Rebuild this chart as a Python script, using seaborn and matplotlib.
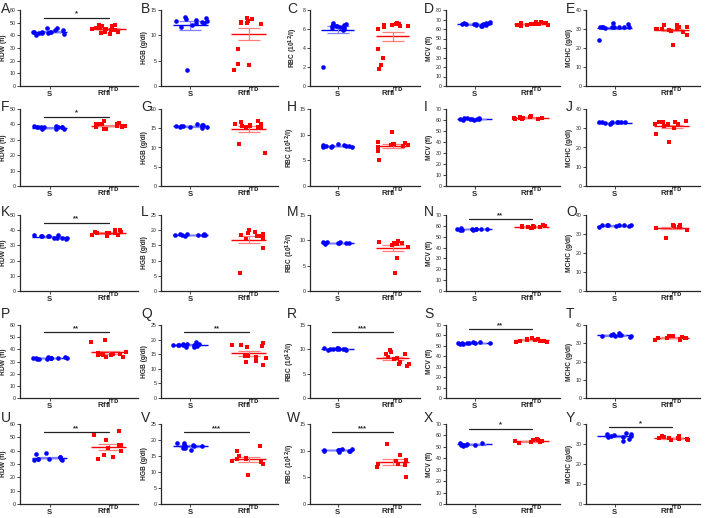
import numpy as np
import pandas as pd
import seaborn as sns
import matplotlib.pyplot as plt

sns.set_style("ticks")
plt.rcParams['font.family'] = ['Liberation Sans', 'DejaVu Sans']

groups = ['S', r'Rffl$^{\mathbf{TD}}$']
letters = list('ABCDEFGHIJKLMNOPQRSTUVWXY')
ylabels = ['RDW (fl)', 'HGB (g/dl)', r'RBC (10$^{\mathbf{12}}$/l)', 'MCV (fl)', 'MCHC (g/dl)']

# y axis max per panel
ymax = [60, 15, 8, 80, 40,
        50, 20, 15, 70, 40,
        50, 25, 15, 70, 40,
        60, 25, 15, 70, 40,
        60, 25, 15, 70, 40]
ystep = [10, 5, 2, 10, 10,
         10, 5, 5, 10, 10,
         10, 5, 5, 10, 10,
         10, 5, 5, 10, 10,
         10, 5, 5, 10, 10]
stars = ['*', '', '', '', '',
         '*', '', '', '', '',
         '**', '', '', '**', '',
         '**', '**', '***', '**', '',
         '**', '***', '***', '*', '*']
star_y = [54, 0, 0, 0, 0,
          45, 0, 0, 0, 0,
          45, 0, 0, 66, 0,
          54, 22.5, 13.5, 66, 0,
          54, 22.5, 13.5, 66, 38.5]

# values (S = wild type, R = Rffl TD)
A_S = [43, 46, 42, 43, 44, 41, 40, 42, 43, 46, 43, 42, 44, 43]
A_R = [48, 47, 45, 44, 46, 43, 42, 44, 45, 46, 41, 43, 47, 48, 45]
B_S = [13.5, 12.8, 13, 12.5, 12.7, 13.3, 12.9, 12.4, 12, 13.7, 11.7, 3.1]
B_R = [12.9, 12.5, 12.5, 13.4, 12.3, 13.2, 12.5, 12.7, 12.4, 7.4, 4.3, 4.1, 3.2]
C_S = [6.3, 6.4, 6.2, 6.5, 6.0, 6.4, 6.6, 5.9, 6.3, 6.2, 6.1, 6.3, 2.0]
C_R = [6.4, 6.3, 6.2, 6.5, 6.6, 6.3, 6.4, 6.5, 6.0, 3.9, 2.9, 2.2, 1.8]
D_S = [65, 64, 66, 67, 63, 65, 64, 65, 66, 64, 63, 65, 66, 65]
D_R = [65, 66, 67, 64, 65, 66, 63, 65, 67, 64, 66, 65, 64, 65]
E_S = [31, 31, 31, 33, 30.5, 31, 31, 32.5, 31, 31, 31, 24]
E_R = [30, 31, 32, 29, 32, 30, 31, 29.5, 30, 30, 30, 27, 21.5, 28.5]
F_S = [38, 38, 39, 37, 38, 39, 38, 37, 38, 38, 37, 38]
F_R = [40, 42, 39, 38, 40, 37, 39, 40, 38, 41, 39, 37, 40]
G_S = [15.5, 15.8, 15.2, 16, 15.4, 15.6, 15, 15.8, 15.5, 15.3, 15.7]
G_R = [16, 15.5, 16.5, 15.2, 15.8, 16.2, 15, 15.7, 16.8, 11, 8.5, 15.4]
H_S = [7.8, 7.6, 8, 7.7, 7.5, 7.9, 7.8, 7.6, 8.1, 7.7]
H_R = [8.0, 8.2, 7.8, 8.5, 10.5, 7.6, 8.3, 7.9, 6.8, 5.0, 8.1]
I_S = [61, 62, 61, 60, 61, 62, 61, 61, 60, 62]
I_R = [62, 63, 61, 62, 64, 62, 61, 63, 62, 61, 62]
J_S = [33, 33, 32.5, 33.5, 33, 32, 33, 33, 32.5, 33]
J_R = [33, 32, 34, 31, 33, 32, 30, 33, 27, 23, 32]
K_S = [36, 35, 37, 36, 35, 34, 36, 37, 35, 36, 35]
K_R = [38, 40, 37, 39, 38, 36, 40, 38, 37, 39, 38]
L_S = [18.5, 18.3, 18.7, 18.4, 18.6, 18.2, 18.5, 18.3, 18.6]
L_R = [18, 19, 20, 17, 18.5, 17.5, 19.5, 18, 14, 6, 18.6]
M_S = [9.5, 9.4, 9.6, 9.3, 9.5, 9.7, 9.4, 9.5, 9.6]
M_R = [9.3, 9, 9.8, 9.5, 8.6, 9.7, 6.5, 3.6, 9.2, 9.4]
N_S = [57, 57, 56, 57.5, 57, 56.5, 57, 58, 56, 57]
N_R = [59, 60, 58, 59, 61, 58, 60, 59, 58.5, 60]
O_S = [34.5, 35, 34, 34.5, 35, 34, 34.5, 33.5, 34.5]
O_R = [34, 33, 35, 34, 33.5, 34.5, 32, 28, 34, 33]
P_S = [33, 32, 33, 34, 32, 33, 33, 32, 33, 33, 33, 34]
P_R = [46, 48, 38, 36, 35, 35, 34, 34, 36, 37, 36, 35]
Q_S = [18.5, 18, 19.3, 18.3, 18, 17.5, 17.8, 18.3, 18.5, 18.6, 17.4, 18.2]
Q_R = [18.8, 18.2, 17.9, 18, 14.3, 13.8, 17.5, 12.8, 12.4, 11.3, 13.9, 14.5]
R_S = [10.2, 10, 10.3, 10, 10.1, 9.9, 10, 10.2, 10.1, 9.9, 10.1]
R_R = [9.8, 9.5, 9.0, 8.5, 7.5, 7, 6.5, 8, 9, 8.2, 7]
S_S = [53, 53, 54, 52, 53, 53, 54, 53, 52, 53]
S_R = [55, 56, 58, 54, 55, 57, 56, 55, 54, 57]
T_S = [34.5, 35, 34, 34.5, 34, 35.5, 34, 34.5, 33.5]
T_R = [33, 34, 32, 33.5, 33, 32.5, 34, 33, 32, 33]
U_S = [35, 34, 33, 34, 38, 37.5, 34, 33, 34, 35]
U_R = [55, 51.5, 48, 44, 42, 40, 37, 35, 34, 44]
V_S = [18, 18.5, 19, 17.5, 18, 19, 17, 17.5, 18, 18.3]
V_R = [18, 16.5, 15, 14, 13.5, 14.5, 13, 12.5, 9, 14]
W_S = [10, 10.2, 9.8, 10.3, 10.1, 10, 9.9, 10.2, 10.4, 10.1]
W_R = [11.2, 9.2, 8.3, 8, 7.5, 7.3, 7, 7.5, 5]
X_S = [52, 52, 53, 51.5, 52, 53, 51, 52, 52.5]
X_R = [55, 56, 54, 57, 55, 53, 56, 55.5, 54]
Y_S = [35.5, 34.5, 33.5, 35, 34, 32.5, 34, 33.5, 35, 31.5]
Y_R = [33.5, 33, 32.5, 34, 33, 32, 33, 32.5, 34, 32]

s_data = [A_S, B_S, C_S, D_S, E_S, F_S, G_S, H_S, I_S, J_S, K_S, L_S, M_S,
          N_S, O_S, P_S, Q_S, R_S, S_S, T_S, U_S, V_S, W_S, X_S, Y_S]
r_data = [A_R, B_R, C_R, D_R, E_R, F_R, G_R, H_R, I_R, J_R, K_R, L_R, M_R,
          N_R, O_R, P_R, Q_R, R_R, S_R, T_R, U_R, V_R, W_R, X_R, Y_R]

# panel placement in pixels
col_x = [(20, 138), (161, 278), (310, 420), (446, 560), (586, 700)]
row_y = [(10, 86), (109, 186), (215, 291), (325, 398), (424, 504)]
letter_x = [1, 141, 287, 424, 566]
letter_y = [2, 100, 205, 307, 411]

W, H = 708, 518
fig = plt.figure(figsize=(W / 100, H / 100), dpi=100)
np.random.seed(3)

dark = ['#0000ff', '#ff0000']
light = ['#7f7fff', '#ff7f7f']
markers = ['o', 's']

for i in range(25):
    r, c = divmod(i, 5)
    x0, x1 = col_x[c]
    y0, y1 = row_y[r]
    ax = fig.add_axes([x0 / W, 1 - y1 / H, (x1 - x0) / W, (y1 - y0) / H])

    for k, vals in enumerate([s_data[i], r_data[i]]):
        df = pd.DataFrame({'group': groups[k], 'value': vals})
        sns.stripplot(data=df, x='group', y='value', order=groups, ax=ax,
                      color=dark[k], marker=markers[k], size=3.3, jitter=0.3,
                      linewidth=0, zorder=3)
        m = np.mean(vals)
        se = np.std(vals, ddof=1) / np.sqrt(len(vals))
        ax.hlines(m, k - 0.3, k + 0.3, color=dark[k], lw=1, zorder=2)
        ax.errorbar(k, m, yerr=se, color=light[k], capsize=8, lw=0.9,
                    capthick=0.9, zorder=2)

    if stars[i]:
        ax.plot([-0.1, 1.0], [star_y[i], star_y[i]], color='#222222', lw=0.9)
        ax.text(0.45, star_y[i], stars[i], ha='center', va='bottom',
                fontsize=5.5, fontweight='bold')

    ax.set_xlim(-0.5, 1.5)
    ax.set_ylim(0, ymax[i])
    ax.set_yticks(np.arange(0, ymax[i] + 1, ystep[i]))
    ax.set_xlabel('')
    ax.set_ylabel(ylabels[c], fontsize=4.8, fontweight='bold', labelpad=2)
    ax.set_xticks([0, 1])
    ax.set_xticklabels(groups, fontsize=5.5, fontweight='bold')
    for lab in ax.get_xticklabels():
        lab.set_verticalalignment('baseline')
    ax.tick_params(axis='y', labelsize=3.8, length=2, width=0.6, pad=1)
    ax.tick_params(axis='x', length=2, width=0.6, pad=5.5)
    sns.despine(ax=ax)
    for sp in ['left', 'bottom']:
        ax.spines[sp].set_linewidth(0.9)

    fig.text(letter_x[c] / W, 1 - letter_y[r] / H, letters[i],
             fontsize=10, va='top', ha='left')

fig.savefig('out.png', dpi=100)
